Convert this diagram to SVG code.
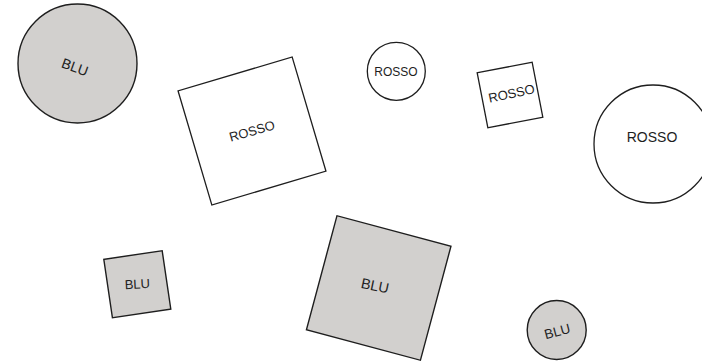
<svg xmlns="http://www.w3.org/2000/svg" width="702" height="363" viewBox="0 0 702 363">
<style>
.blu{fill:#d2d0ce;stroke:#1e1e1e;stroke-width:1.4}
.rosso{fill:#ffffff;stroke:#1e1e1e;stroke-width:1.3}
text{font-family:"Liberation Sans",Arial,sans-serif;fill:#1e1e1e;text-anchor:middle;dominant-baseline:central}
</style>
<rect width="702" height="363" fill="#ffffff"/>
<g id="c1">
<circle class="blu" cx="77.5" cy="63.5" r="59.5"/>
<text x="75" y="67" font-size="14" transform="rotate(20 75 67)">BLU</text>
</g>
<g id="s2">
<rect class="rosso" x="-59.5" y="-59.5" width="119" height="119" transform="translate(252 131) rotate(-16.5)"/>
<text x="252" y="131" font-size="13" transform="rotate(-16 252 131)">ROSSO</text>
</g>
<g id="c3">
<circle class="rosso" cx="396.3" cy="71.3" r="29"/>
<text x="396" y="71.5" font-size="12">ROSSO</text>
</g>
<g id="s4">
<rect class="rosso" x="-28" y="-28" width="56" height="56" transform="translate(510 95) rotate(-11)"/>
<text x="511.5" y="93.5" font-size="13" transform="rotate(-12 511.5 93.5)">ROSSO</text>
</g>
<g id="c5">
<circle class="rosso" cx="653" cy="144" r="59"/>
<text x="652" y="136.5" font-size="14">ROSSO</text>
</g>
<g id="s6">
<rect class="blu" x="-29.5" y="-29.5" width="59" height="59" transform="translate(137.3 284.2) rotate(-8.4)"/>
<text x="137.3" y="284" font-size="13" transform="rotate(-3 137.3 284)">BLU</text>
</g>
<g id="s7">
<rect class="blu" x="-59" y="-59" width="118" height="118" transform="translate(378.7 288) rotate(15)"/>
<text x="375" y="285.7" font-size="14.5" transform="rotate(12 375 285.7)">BLU</text>
</g>
<g id="c8">
<circle class="blu" cx="556.7" cy="330" r="29.5"/>
<text x="557.3" y="331.5" font-size="13.5" transform="rotate(-15 557.3 331.5)">BLU</text>
</g>
<g id="connectors"></g>
</svg>
